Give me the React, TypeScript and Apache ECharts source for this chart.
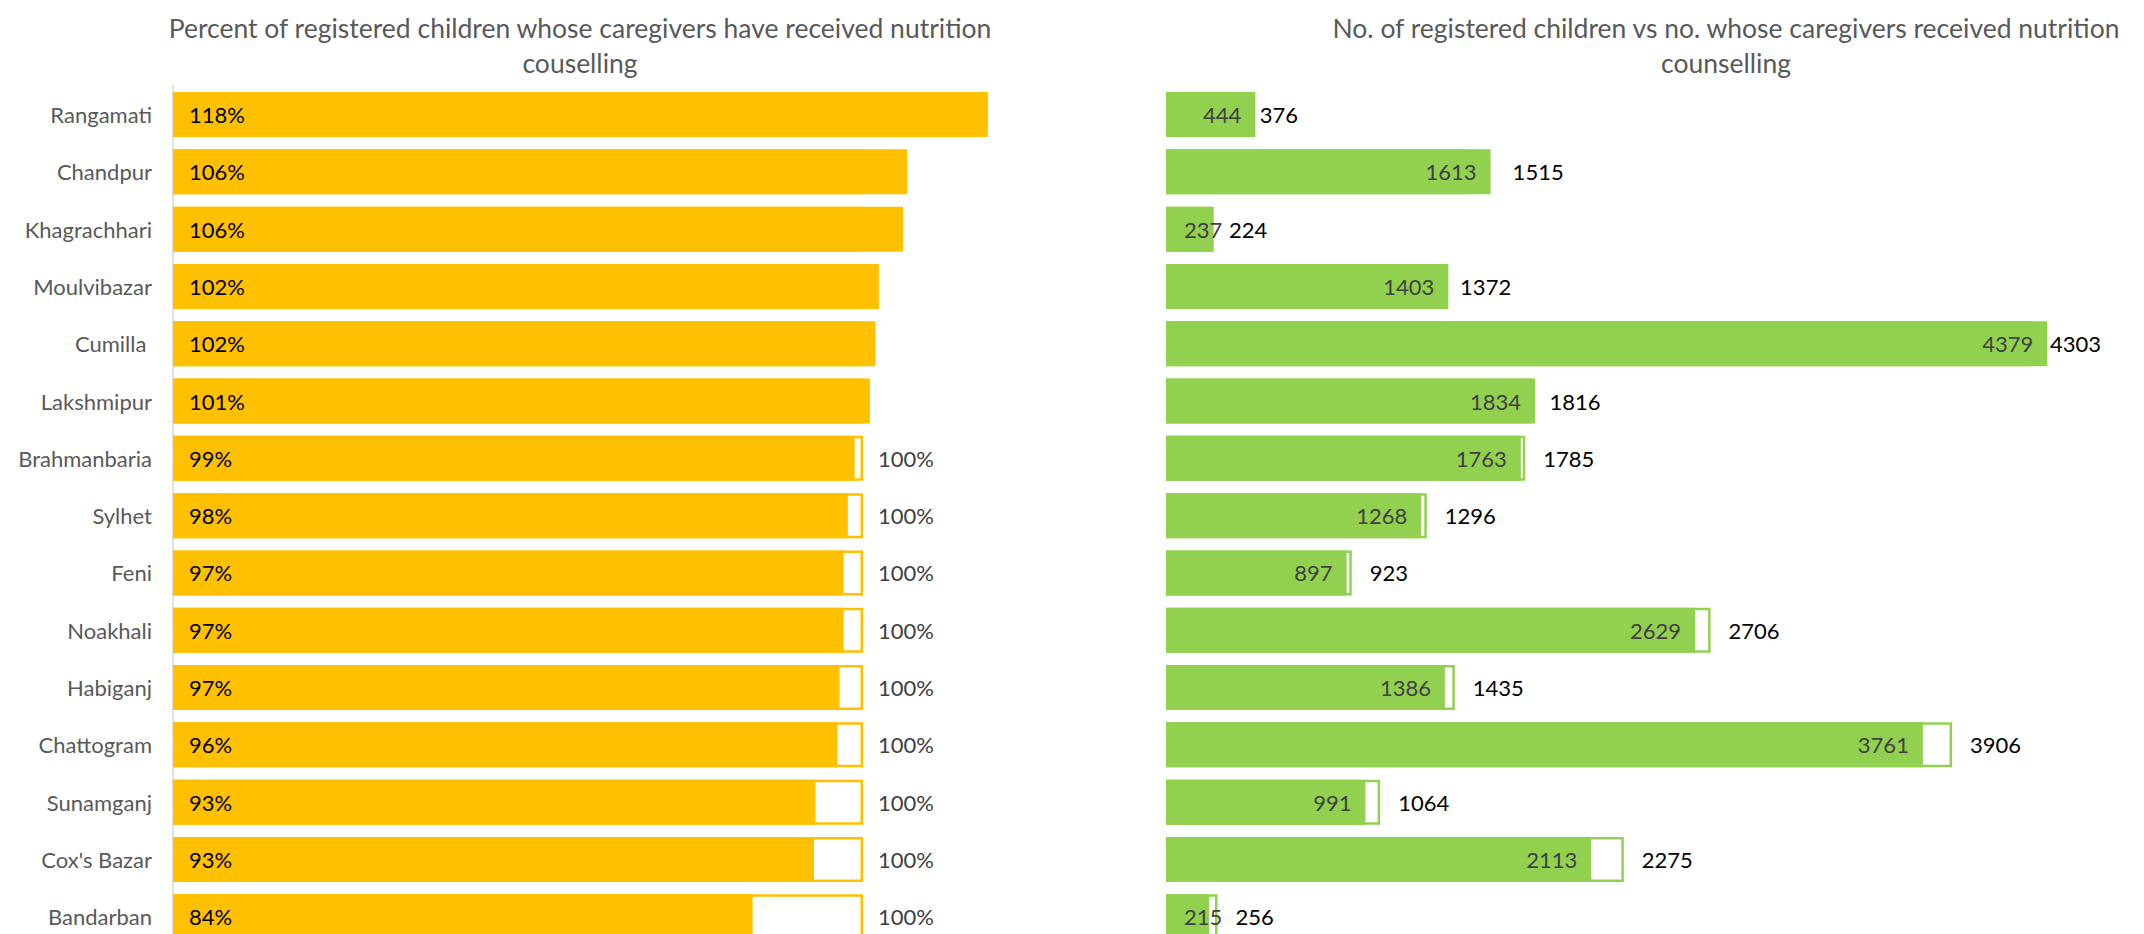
import React, { useEffect, useRef } from "react";
import * as echarts from "echarts";

const categories = [
  "Rangamati",
  "Chandpur",
  "Khagrachhari",
  "Moulvibazar",
  "Cumilla ",
  "Lakshmipur",
  "Brahmanbaria",
  "Sylhet",
  "Feni",
  "Noakhali",
  "Habiganj",
  "Chattogram",
  "Sunamganj",
  "Cox's Bazar",
  "Bandarban",
];

const percentReceived = [118.1, 106.4, 105.8, 102.3, 101.8, 101.0, 98.8, 97.8, 97.2, 97.2, 96.6, 96.3, 93.1, 92.9, 84.0];
const percentTarget = [100, 100, 100, 100, 100, 100, 100, 100, 100, 100, 100, 100, 100, 100, 100];

const counselled = [444, 1613, 237, 1403, 4379, 1834, 1763, 1268, 897, 2629, 1386, 3761, 991, 2113, 215];
const registered = [376, 1515, 224, 1372, 4303, 1816, 1785, 1296, 923, 2706, 1435, 3906, 1064, 2275, 256];

const leftTitle = "Percent of registered children whose caregivers have received nutrition\ncouselling";
const rightTitle = "No. of registered children vs no. whose caregivers received nutrition\ncounselling";

const FONT = "Lato";
const ORANGE = "#FFC000";
const GREEN = "#92D050";

export default function App() {
  const ref = useRef<HTMLDivElement>(null);

  useEffect(() => {
    document.body.style.margin = "0";
    document.body.style.overflow = "hidden";
    if (!ref.current) return;
    const chart = echarts.init(ref.current, null, { renderer: "svg" });

    const gridTop = 85.9;
    const gridHeight = 859.5;
    const barW = 45;
    const rightWidth = 966;
    const rightMax = 4800;
    const pxPerUnit = rightWidth / rightMax;
    const labelSize = 22;

    const registeredLabelData = registered.map((v, i) => {
      const overhang = (counselled[i] - v) * pxPerUnit;
      return overhang > 18 ? { value: v, label: { distance: overhang + 22 } } : v;
    });

    const counselledData = counselled.map((v) =>
      v * pxPerUnit < 48 ? { value: v, label: { position: "insideLeft", distance: 18 } } : v
    );

    const option: any = {
      animation: false,
      backgroundColor: "#ffffff",
      textStyle: { fontFamily: FONT },
      title: [
        {
          text: leftTitle,
          left: 575,
          top: 5,
          textAlign: "center",
          textStyle: { fontFamily: FONT, fontSize: 26.5, fontWeight: "normal", color: "#595959", lineHeight: 35 },
        },
        {
          text: rightTitle,
          left: 1721,
          top: 5,
          textAlign: "center",
          textStyle: { fontFamily: FONT, fontSize: 26.5, fontWeight: "normal", color: "#595959", lineHeight: 35 },
        },
      ],
      grid: [
        { left: 173, top: gridTop, width: 828, height: gridHeight, containLabel: false },
        { left: 1166, top: gridTop, width: rightWidth, height: gridHeight, containLabel: false },
      ],
      xAxis: [
        { type: "value", gridIndex: 0, min: 0, max: 120, show: false },
        { type: "value", gridIndex: 1, min: 0, max: rightMax, show: false },
      ],
      yAxis: [
        {
          type: "category",
          gridIndex: 0,
          data: categories,
          inverse: true,
          axisLine: { show: true, lineStyle: { color: "#d9d9d9", width: 1.5 } },
          axisTick: { show: false },
          axisLabel: { color: "#595959", fontSize: labelSize, fontFamily: FONT, margin: 21 },
        },
        {
          type: "category",
          gridIndex: 1,
          data: categories,
          inverse: true,
          axisLine: { show: false },
          axisTick: { show: false },
          axisLabel: { show: false },
        },
      ],
      series: [
        {
          name: "Target",
          type: "bar",
          xAxisIndex: 0,
          yAxisIndex: 0,
          data: percentTarget,
          barWidth: barW,
          barGap: "-100%",
          itemStyle: { color: "#ffffff", borderColor: ORANGE, borderWidth: 2.5 },
          label: {
            show: true,
            position: "right",
            distance: 15,
            color: "#404040",
            fontSize: labelSize,
            fontFamily: FONT,
            formatter: (p: any) => (percentReceived[p.dataIndex] < 100 ? p.value + "%" : ""),
          },
          silent: true,
        },
        {
          name: "Received",
          type: "bar",
          xAxisIndex: 0,
          yAxisIndex: 0,
          data: percentReceived,
          barWidth: barW,
          barGap: "-100%",
          itemStyle: { color: ORANGE },
          label: {
            show: true,
            position: "insideLeft",
            distance: 16,
            color: "#000000",
            fontSize: labelSize,
            fontFamily: FONT,
            formatter: (p: any) => Math.round(p.value) + "%",
          },
          silent: true,
        },
        {
          name: "Registered",
          type: "bar",
          xAxisIndex: 1,
          yAxisIndex: 1,
          data: registered,
          barWidth: barW,
          barGap: "-100%",
          itemStyle: { color: "#ffffff", borderColor: GREEN, borderWidth: 2.5 },
          silent: true,
        },
        {
          name: "Counselled",
          type: "bar",
          xAxisIndex: 1,
          yAxisIndex: 1,
          data: counselledData,
          barWidth: barW,
          barGap: "-100%",
          itemStyle: { color: GREEN },
          label: {
            show: true,
            position: "insideRight",
            distance: 14,
            color: "#404040",
            fontSize: labelSize,
            fontFamily: FONT,
          },
          silent: true,
        },
        {
          name: "Registered labels",
          type: "bar",
          xAxisIndex: 1,
          yAxisIndex: 1,
          data: registeredLabelData,
          barWidth: barW,
          barGap: "-100%",
          itemStyle: { color: "rgba(0,0,0,0)" },
          label: {
            show: true,
            position: "right",
            distance: 18,
            color: "#000000",
            fontSize: labelSize,
            fontFamily: FONT,
          },
          silent: true,
        },
      ],
    };

    chart.setOption(option);
    return () => chart.dispose();
  }, []);

  return (
    <div style={{ width: 2144, height: 934, overflow: "hidden" }}>
      <div ref={ref} style={{ width: 2144, height: 960 }} />
    </div>
  );
}
